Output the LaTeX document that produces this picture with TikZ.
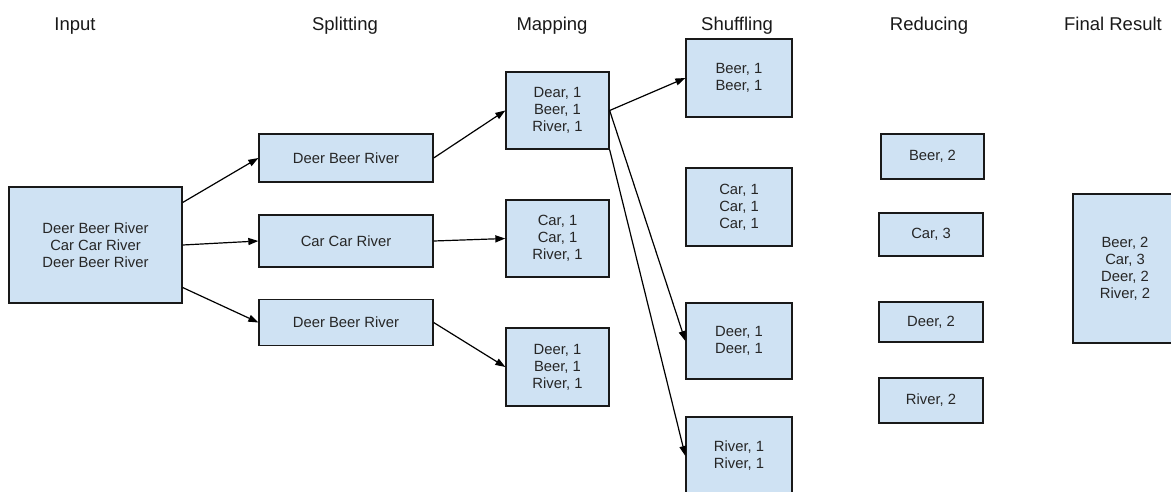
\documentclass[tikz,border=0pt]{standalone}
\usepackage{fontspec}
\setmainfont{Liberation Sans}
\usetikzlibrary{arrows.meta}
\definecolor{boxblue}{RGB}{207,226,243}

\begin{document}
\begin{tikzpicture}[x=1pt,y=-1pt,
        box/.style={draw=black!90,line width=1.3pt,fill=boxblue,inner sep=0pt,align=center,
            text=black!85,font=\fontsize{14.8}{17}\selectfont},
        title/.style={anchor=base,text=black!90,font=\fontsize{18.5}{22}\selectfont},
        flow/.style={-{Triangle[length=10pt,width=7pt]},line width=1.2pt}]
        \useasboundingbox (0,0) rectangle (1171,491);
        \clip (0,0) rectangle (1171,491);

        % column titles
        \node[title] (tin)  at (75,30)   {Input};
        \node[title] (tspl) at (345,30)  {Splitting};
        \node[title] (tmap) at (552,30)  {Mapping};
        \node[title] (tshu) at (737,30)  {Shuffling};
        \node[title] (tred) at (929,30)  {Reducing};
        \node[title] (tres) at (1113,30) {Final Result};

        \node[box,minimum width=173,minimum height=116] (input) at (95.5,245) {Deer Beer River\\Car Car River\\Deer Beer River};

        \node[box,minimum width=174,minimum height=48] (split1) at (346,158)   {Deer Beer River};
        \node[box,minimum width=174,minimum height=52] (split2) at (346,241)   {Car Car River};
        \node[box,minimum width=174,minimum height=46] (split3) at (346,322.5) {Deer Beer River};

        \node[box,minimum width=103,minimum height=77] (map1) at (557.5,110.5) {Dear, 1\\Beer, 1\\River, 1};
        \node[box,minimum width=103,minimum height=77] (map2) at (557.5,238.5) {Car, 1\\Car, 1\\River, 1};
        \node[box,minimum width=103,minimum height=78] (map3) at (557.5,367)   {Deer, 1\\Beer, 1\\River, 1};

        \node[box,minimum width=106,minimum height=78] (shuf1) at (739,78)  {Beer, 1\\Beer, 1};
        \node[box,minimum width=106,minimum height=78] (shuf2) at (739,207) {Car, 1\\Car, 1\\Car, 1};
        \node[box,minimum width=106,minimum height=76] (shuf3) at (739,341) {Deer, 1\\Deer, 1};
        \node[box,minimum width=106,minimum height=78] (shuf4) at (739,456) {River, 1\\River, 1};

        \node[box,minimum width=103,minimum height=45] (red1) at (932.5,156.5) {Beer, 2};
        \node[box,minimum width=104,minimum height=43] (red2) at (931,234.5)   {Car, 3};
        \node[box,minimum width=104,minimum height=40] (red3) at (931,322)     {Deer, 2};
        \node[box,minimum width=104,minimum height=45] (red4) at (931,400.5)   {River, 2};

        \node[box,minimum width=104,minimum height=149] (result) at (1125,268.5) {Beer, 2\\Car, 3\\Deer, 2\\River, 2};

        \path [flow] (input.26)  edge (split1.west);
        \path [flow] (input.east) edge (split2.west);
        \path [flow] (input.-26) edge (split3.west);

        \path [flow] (split1.east) edge (map1.west);
        \path [flow] (split2.east) edge (map2.west);
        \path [flow] (split3.east) edge (map3.west);

        \path [flow] (map1.east) edge (shuf1.west);
        \path [flow] (map1.east) edge (shuf3.west);
        \path [flow] (map1.south east) edge (shuf4.west);
    \end{tikzpicture}
\end{document}
